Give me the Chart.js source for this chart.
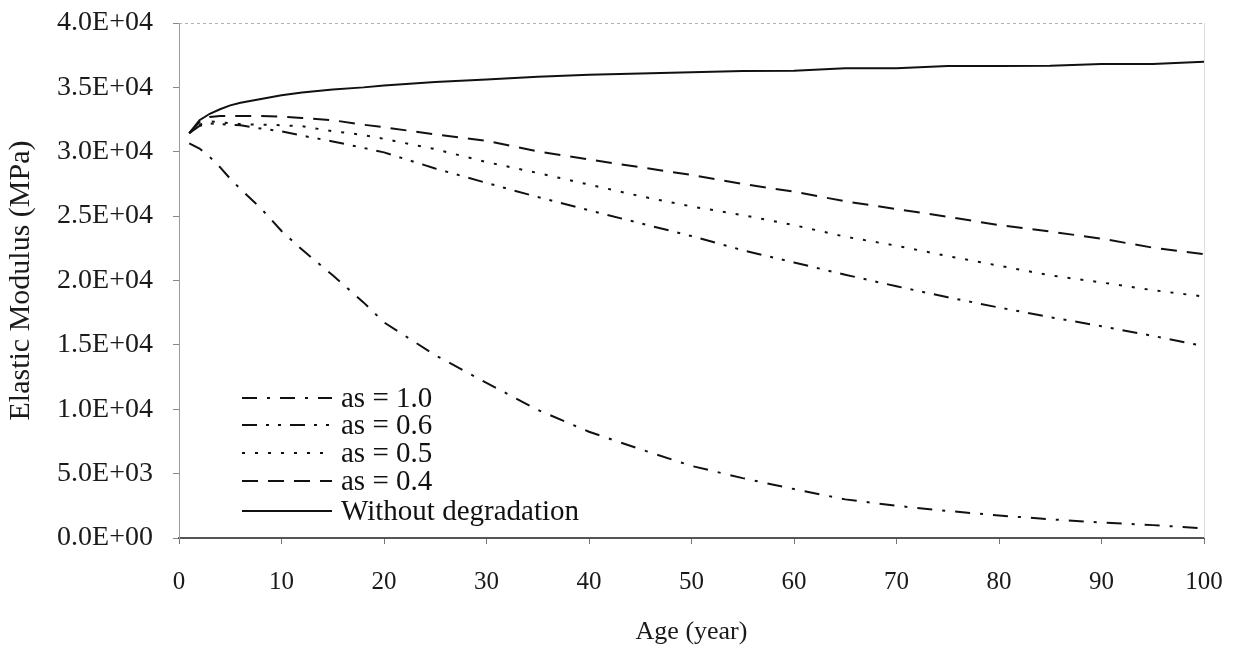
<!DOCTYPE html>
<html>
<head>
<meta charset="utf-8">
<script src="https://cdn.jsdelivr.net/npm/chart.js@4.4.1/dist/chart.umd.min.js"></script>
<style>
  html, body { margin: 0; padding: 0; background: #ffffff; }
  #wrap { width: 1237px; height: 648px; }
</style>
</head>
<body>
<div id="wrap"><canvas id="c" width="1237" height="648"></canvas></div>
<script>
// ---- data ----
const ages = [1, 2, 3, 4, 5, 6, 8, 10, 12, 15, 18, 20, 25, 30, 35, 40, 45, 50, 55, 60, 65, 70, 75, 80, 85, 90, 95, 100];

const eWithout = [31450, 32450, 32950, 33300, 33600, 33800, 34100, 34380, 34600, 34840, 35000, 35150, 35420, 35620, 35820, 35980, 36080, 36180, 36280, 36290, 36480, 36480, 36660, 36660, 36670, 36815, 36815, 37000];
const eAs04 = [31450, 32300, 32700, 32780, 32780, 32780, 32780, 32720, 32620, 32450, 32100, 31900, 31350, 30850, 30020, 29400, 28800, 28200, 27500, 26900, 26150, 25550, 24950, 24300, 23800, 23250, 22550, 22050];
const eAs05 = [31450, 32100, 32350, 32300, 32200, 32150, 32100, 32060, 31980, 31600, 31300, 31000, 30200, 29200, 28350, 27450, 26550, 25750, 25080, 24300, 23400, 22700, 21900, 21150, 20400, 19850, 19250, 18750];
const eAs06 = [31450, 32000, 32200, 32150, 32100, 32050, 31800, 31580, 31250, 30800, 30300, 29950, 28700, 27580, 26480, 25450, 24450, 23450, 22350, 21400, 20450, 19550, 18700, 17900, 17150, 16450, 15700, 14900];
const eAs10 = [30650, 30250, 29600, 28800, 27900, 27100, 25600, 23850, 22400, 20400, 18300, 16750, 14200, 12050, 9950, 8250, 6900, 5600, 4650, 3800, 3000, 2500, 2100, 1750, 1450, 1200, 1000, 750];

const seriesLabels = ["as = 1.0", "as = 0.6", "as = 0.5", "as = 0.4", "Without degradation"];
const xTitle = "Age (year)";
const yTitle = "Elastic Modulus (MPa)";

// ---- chart ----
const SERIF = "'Liberation Serif', 'Times New Roman', serif";
const INK = "#111111";

function pts(vals) { return ages.map((a, i) => ({ x: a, y: vals[i] })); }

const dashes = [
  [15, 10, 3, 10],          // as = 1.0  dash-dot
  [15, 9, 3, 9, 3, 9],      // as = 0.6  dash-dot-dot
  [3, 10],                  // as = 0.5  dotted
  [16, 10],                 // as = 0.4  dashed
  []                        // without degradation  solid
];
const seriesValues = [eAs10, eAs06, eAs05, eAs04, eWithout];

const datasets = seriesValues.map((v, i) => ({
  label: seriesLabels[i],
  data: pts(v),
  borderColor: INK,
  borderWidth: 2,
  borderDash: dashes[i],
  pointRadius: 0,
  tension: 0,
  fill: false
}));

function sciLabel(v) {
  if (v === 0) return "0.0E+00";
  const e = Math.floor(Math.log10(v) + 1e-9);
  const m = v / Math.pow(10, e);
  return m.toFixed(1) + "E+" + String(e).padStart(2, "0");
}

const framePlugin = {
  id: "frame",
  beforeDatasetsDraw(chart) {
    const { ctx, chartArea: a } = chart;
    ctx.save();
    ctx.strokeStyle = "#b0b0b0";
    ctx.lineWidth = 1;
    ctx.setLineDash([3, 3]);
    ctx.beginPath();
    ctx.moveTo(a.left, a.top + 0.5);
    ctx.lineTo(a.right, a.top + 0.5);
    ctx.stroke();
    ctx.setLineDash([]);
    ctx.strokeStyle = "#dddddd";
    ctx.beginPath();
    ctx.moveTo(a.right + 0.5, a.top);
    ctx.lineTo(a.right + 0.5, a.bottom);
    ctx.stroke();
    ctx.restore();
  }
};

const legendPlugin = {
  id: "innerLegend",
  afterDatasetsDraw(chart) {
    const { ctx, chartArea: a } = chart;
    const rowsFromBottom = [140, 113, 85, 57, 27];
    ctx.save();
    ctx.font = "29px " + SERIF;
    ctx.fillStyle = INK;
    ctx.textBaseline = "middle";
    ctx.textAlign = "left";
    chart.data.datasets.forEach((ds, i) => {
      const y = a.bottom - rowsFromBottom[i];
      ctx.strokeStyle = INK;
      ctx.lineWidth = 2;
      ctx.setLineDash(ds.borderDash || []);
      ctx.beginPath();
      ctx.moveTo(a.left + 63, y);
      ctx.lineTo(a.left + 153, y);
      ctx.stroke();
      ctx.setLineDash([]);
      ctx.fillText(ds.label, a.left + 162, y + 1);
    });
    ctx.restore();
  }
};

new Chart(document.getElementById("c"), {
  type: "line",
  data: { datasets },
  plugins: [framePlugin, legendPlugin],
  options: {
    responsive: false,
    animation: false,
    layout: { padding: { top: 23, right: 33, left: 0, bottom: 0 } },
    plugins: { legend: { display: false }, tooltip: { enabled: false } },
    scales: {
      x: {
        type: "linear",
        min: 0, max: 100,
        afterFit(s) { s.height = 110; s.paddingLeft = 0; s.paddingRight = 0; },
        ticks: { stepSize: 10, color: "#1a1a1a", padding: 23, maxRotation: 0, font: { family: SERIF, size: 25 } },
        grid: { display: true, drawOnChartArea: false, drawTicks: true, tickLength: 6, color: "#777777" },
        border: { display: true, color: "#555555", width: 2 },
        title: { display: true, text: xTitle, color: "#1a1a1a", font: { family: SERIF, size: 26 }, padding: { top: 0, bottom: 0 } }
      },
      y: {
        type: "linear",
        min: 0, max: 40000,
        afterFit(s) { s.width = 179; s.paddingTop = 0; s.paddingBottom = 0; },
        ticks: { stepSize: 5000, color: "#1a1a1a", padding: 20, font: { family: SERIF, size: 28 }, callback: (v) => sciLabel(v) },
        grid: { display: true, drawOnChartArea: false, drawTicks: true, tickLength: 6, color: "#888888" },
        border: { display: true, color: "#9a9a9a", width: 1 },
        title: { display: true, text: yTitle, color: "#1a1a1a", font: { family: SERIF, size: 30 }, padding: { top: 3, bottom: 0 } }
      }
    }
  }
});
</script>
</body>
</html>
